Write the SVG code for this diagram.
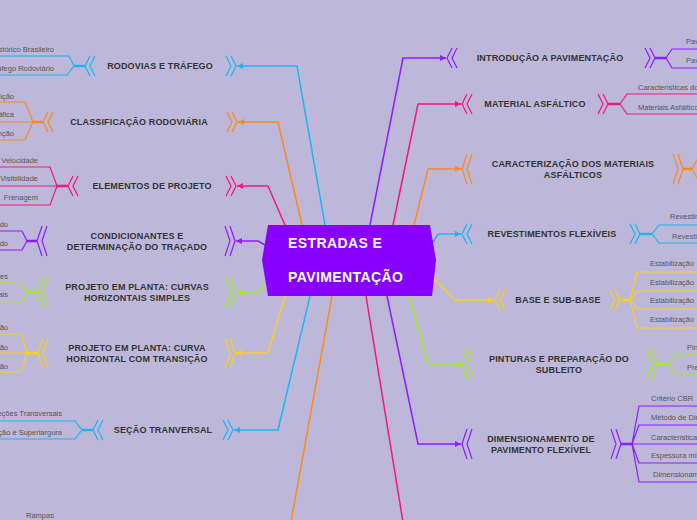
<svg xmlns="http://www.w3.org/2000/svg" width="697" height="520" viewBox="0 0 697 520">
<style>
.t{font-family:"Liberation Sans",Arial,sans-serif;font-weight:bold;font-size:9px;fill:#333;text-anchor:middle;letter-spacing:0.15px}
.s{font-family:"Liberation Sans",Arial,sans-serif;font-size:7.5px;fill:#555}
.e{text-anchor:end}
.c{fill:none;stroke-width:1.5}
.b{fill:none;stroke-width:1.2}
.k{fill:none;stroke-width:2.5}
.cy{stroke:#1cb4f2}.or{stroke:#fb8a1c}.pk{stroke:#f5177a}.pu{stroke:#8f1cff}.li{stroke:#a4ec1c}.ye{stroke:#f8cf1c}
.main{font-family:"Liberation Sans",Arial,sans-serif;font-weight:bold;font-size:14px;fill:#fff;letter-spacing:0.4px}
</style>
<defs>
<marker id="acy" markerUnits="userSpaceOnUse" markerWidth="7" markerHeight="6" refX="6" refY="3" orient="auto"><path d="M0,0 L6,3 L0,6 z" fill="#1cb4f2"/></marker>
<marker id="aor" markerUnits="userSpaceOnUse" markerWidth="7" markerHeight="6" refX="6" refY="3" orient="auto"><path d="M0,0 L6,3 L0,6 z" fill="#fb8a1c"/></marker>
<marker id="apk" markerUnits="userSpaceOnUse" markerWidth="7" markerHeight="6" refX="6" refY="3" orient="auto"><path d="M0,0 L6,3 L0,6 z" fill="#f5177a"/></marker>
<marker id="apu" markerUnits="userSpaceOnUse" markerWidth="7" markerHeight="6" refX="6" refY="3" orient="auto"><path d="M0,0 L6,3 L0,6 z" fill="#8f1cff"/></marker>
<marker id="ali" markerUnits="userSpaceOnUse" markerWidth="7" markerHeight="6" refX="6" refY="3" orient="auto"><path d="M0,0 L6,3 L0,6 z" fill="#a4ec1c"/></marker>
<marker id="aye" markerUnits="userSpaceOnUse" markerWidth="7" markerHeight="6" refX="6" refY="3" orient="auto"><path d="M0,0 L6,3 L0,6 z" fill="#f8cf1c"/></marker>
</defs>
<rect width="697" height="520" fill="#bdb8da"/>

<g id="connectors">
<path class="c cy" d="M325,225 L297,66 L237,66" marker-end="url(#acy)"/>
<path class="c or" d="M302,225 L278,122 L238,122" marker-end="url(#aor)"/>
<path class="c pk" d="M285,225 L268,186 L237,186" marker-end="url(#apk)"/>
<path class="c pu" d="M265,245 L258,241 L236,241" marker-end="url(#apu)"/>
<path class="c li" d="M265,285 L258,292 L237,292" marker-end="url(#ali)"/>
<path class="c ye" d="M285,296 L268,353 L236,353" marker-end="url(#aye)"/>
<path class="c cy" d="M310,296 L278,430 L234,430" marker-end="url(#acy)"/>
<path class="c or" d="M332,296 L291,522"/>
<path class="c pk" d="M366,296 L403,522"/>
<path class="c pu" d="M370,225 L403,58 L446,58" marker-end="url(#apu)"/>
<path class="c pk" d="M393,225 L418,104 L461,104" marker-end="url(#apk)"/>
<path class="c or" d="M414,225 L428,169 L461,169" marker-end="url(#aor)"/>
<path class="c cy" d="M433,242 L438,234 L461,234" marker-end="url(#acy)"/>
<path class="c ye" d="M433,278 L455,300 L494,300" marker-end="url(#aye)"/>
<path class="c li" d="M409,296 L428,364 L461,364" marker-end="url(#ali)"/>
<path class="c pu" d="M387,296 L418,444 L461,444" marker-end="url(#apu)"/>
</g>

<g id="center">
<polygon points="268,225 430,225 436,260 432,296 268,296 262,260" fill="#8800ff"/>
<text class="main" x="288" y="248">ESTRADAS E</text>
<text class="main" x="288" y="282">PAVIMENTAÇÃO</text>
</g>

<g id="rodovias">
<path class="b cy" d="M226,56 L231,66 L226,76 M231,56 L236,66 L231,76 M90,56 L85,66 L90,76 M95,56 L90,66 L95,76"/>
<path class="k cy" d="M85,66 L74,66"/>
<path class="b cy" d="M74,66 L69,56 L-2,56 M74,66 L67,75 L-2,75"/>
<text class="t" x="160" y="69">RODOVIAS E TRÁFEGO</text>
<text class="s e" x="54" y="52">Histórico Brasileiro</text>
<text class="s e" x="54" y="71">Tráfego Rodoviário</text>
</g>

<g id="classificacao">
<path class="b or" d="M227,112 L232,122 L227,132 M232,112 L237,122 L232,132 M48,112 L43,122 L48,132 M53,112 L48,122 L53,132"/>
<path class="k or" d="M43,122 L33,122"/>
<path class="b or" d="M33,122 L25,102 L-2,102 M33,122 L-2,122 M33,122 L25,140 L-2,140"/>
<text class="t" x="139" y="125">CLASSIFICAÇÃO RODOVIÁRIA</text>
<text class="s e" x="14" y="98.5">Jurisdição</text>
<text class="s e" x="14" y="117">Geográfica</text>
<text class="s e" x="14" y="135.5">Função</text>
</g>

<g id="elementos">
<path class="b pk" d="M226,176 L231,186 L226,196 M231,176 L236,186 L231,196 M73,176 L68,186 L73,196 M78,176 L73,186 L78,196"/>
<path class="k pk" d="M68,186 L57,186"/>
<path class="b pk" d="M57,186 L50,167 L-2,167 M57,186 L-2,186 M57,186 L50,205 L-2,205"/>
<text class="t" x="152" y="189">ELEMENTOS DE PROJETO</text>
<text class="s e" x="38" y="162.5">Velocidade</text>
<text class="s e" x="38" y="181">Visibilidade</text>
<text class="s e" x="38" y="199.5">Frenagem</text>
</g>

<g id="condicionantes">
<path class="b pu" d="M225,226 L230,241 L225,256 M230,226 L235,241 L230,256 M42,226 L37,241 L42,256 M47,226 L42,241 L47,256"/>
<path class="k pu" d="M37,241 L27,241"/>
<path class="b pu" d="M27,241 L22,231 L-2,231 M27,241 L22,250 L-2,250"/>
<text class="t" x="137" y="239">CONDICIONANTES E</text>
<text class="t" x="137" y="250">DETERMINAÇÃO DO TRAÇADO</text>
<text class="s e" x="8" y="226.5">Traçado</text>
<text class="s e" x="8" y="245.5">Traçado</text>
</g>

<g id="curvas-simples">
<path class="b li" d="M226,277 L231,292 L226,307 M231,277 L236,292 L231,307 M43,277 L38,292 L43,307 M48,277 L43,292 L48,307"/>
<path class="k li" d="M38,292 L27,292"/>
<path class="b li" d="M27,292 L21,283 L-2,283 M27,292 L21,303 L-2,303"/>
<text class="t" x="137" y="290">PROJETO EM PLANTA: CURVAS</text>
<text class="t" x="137" y="301">HORIZONTAIS SIMPLES</text>
<text class="s e" x="8" y="278.5">Simples</text>
<text class="s e" x="8" y="296.5">Horizontais</text>
</g>

<g id="curva-transicao">
<path class="b ye" d="M225,338 L230,353 L225,368 M230,338 L235,353 L230,368 M43,338 L38,353 L43,368 M48,338 L43,353 L48,368"/>
<path class="k ye" d="M38,353 L27,353"/>
<path class="b ye" d="M27,353 L21,334 L-2,334 M27,353 L-2,353 M27,353 L21,372 L-2,372"/>
<text class="t" x="137" y="351">PROJETO EM PLANTA: CURVA</text>
<text class="t" x="137" y="362">HORIZONTAL COM TRANSIÇÃO</text>
<text class="s e" x="8" y="329.5">Transição</text>
<text class="s e" x="8" y="349.5">Locação</text>
<text class="s e" x="8" y="368.5">Superelevação</text>
</g>

<g id="secao">
<path class="b cy" d="M223,420 L228,430 L223,440 M228,420 L233,430 L228,440 M98,420 L93,430 L98,440 M103,420 L98,430 L103,440"/>
<path class="k cy" d="M93,430 L82,430"/>
<path class="b cy" d="M82,430 L75,421 L-2,421 M82,430 L75,439 L-2,439"/>
<text class="t" x="163" y="433">SEÇÃO TRANVERSAL</text>
<text class="s e" x="62" y="415.5">Seções Transversais</text>
<text class="s e" x="62" y="434.5">Superelevação e Superlargura</text>
</g>

<g id="rampas">
<text class="s" x="40" y="518" text-anchor="middle">Rampas</text>
</g>

<g id="introducao">
<path class="b pu" d="M452,48 L447,58 L452,68 M457,48 L452,58 L457,68 M645,48 L650,58 L645,68 M650,48 L655,58 L650,68"/>
<path class="k pu" d="M655,58 L666,58"/>
<path class="b pu" d="M666,58 L672,49 L700,49 M666,58 L672,68 L700,68"/>
<text class="t" x="550" y="61">INTRODUÇÃO A PAVIMENTAÇÃO</text>
<text class="s" x="686" y="44">Pavimentação</text>
<text class="s" x="686" y="63">Pavimento</text>
</g>

<g id="material">
<path class="b pk" d="M467,94 L462,104 L467,114 M472,94 L467,104 L472,114 M598,94 L603,104 L598,114 M603,94 L608,104 L603,114"/>
<path class="k pk" d="M608,104 L620,104"/>
<path class="b pk" d="M620,104 L627,94 L700,94 M620,104 L627,114 L700,114"/>
<text class="t" x="535" y="107">MATERIAL ASFÁLTICO</text>
<text class="s" x="638" y="89.5">Características dos Asfaltos</text>
<text class="s" x="638" y="109.5">Materiais Asfálticos</text>
</g>

<g id="caracterizacao">
<path class="b or" d="M467,154 L462,169 L467,184 M472,154 L467,169 L472,184 M673,154 L678,169 L673,184 M678,154 L683,169 L678,184"/>
<path class="k or" d="M683,169 L692,169"/>
<path class="b or" d="M692,169 L697,160 L700,160 M692,169 L697,178 L700,178"/>
<text class="t" x="573" y="167">CARACTERIZAÇÃO DOS MATERIAIS</text>
<text class="t" x="573" y="178">ASFÁLTICOS</text>
</g>

<g id="revestimentos">
<path class="b cy" d="M467,224 L462,234 L467,244 M472,224 L467,234 L472,244 M630,224 L635,234 L630,244 M635,224 L640,234 L635,244"/>
<path class="k cy" d="M640,234 L652,234"/>
<path class="b cy" d="M652,234 L659,225 L700,225 M652,234 L659,243 L700,243"/>
<text class="t" x="552" y="237">REVESTIMENTOS FLEXÍVEIS</text>
<text class="s" x="670" y="218.5">Revestimentos</text>
<text class="s" x="672" y="238.5">Revestimentos</text>
</g>

<g id="base">
<path class="b ye" d="M500,290 L495,300 L500,310 M505,290 L500,300 L505,310 M610,290 L615,300 L610,310 M615,290 L620,300 L615,310"/>
<path class="k ye" d="M620,300 L630,300"/>
<path class="b ye" d="M630,300 L637,272 L700,272 M630,300 L637,291 L700,291 M630,300 L637,309 L700,309 M630,300 L637,328 L700,328"/>
<text class="t" x="558" y="303">BASE E SUB-BASE</text>
<text class="s" x="650" y="265.5">Estabilização</text>
<text class="s" x="650" y="284.5">Estabilização</text>
<text class="s" x="650" y="302.5">Estabilização</text>
<text class="s" x="650" y="321.5">Estabilização</text>
</g>

<g id="pinturas">
<path class="b li" d="M467,349 L462,364 L467,379 M472,349 L467,364 L472,379 M647,349 L652,364 L647,379 M652,349 L657,364 L652,379"/>
<path class="k li" d="M657,364 L668,364"/>
<path class="b li" d="M668,364 L675,355 L700,355 M668,364 L675,374 L700,374"/>
<text class="t" x="559" y="362">PINTURAS E PREPARAÇÃO DO</text>
<text class="t" x="559" y="373">SUBLEITO</text>
<text class="s" x="687" y="349.5">Pinturas</text>
<text class="s" x="687" y="369.5">Preparação</text>
</g>

<g id="dimensionamento">
<path class="b pu" d="M467,429 L462,444 L467,459 M472,429 L467,444 L472,459 M611,429 L616,444 L611,459 M616,429 L621,444 L616,459"/>
<path class="k pu" d="M621,444 L632,444"/>
<path class="b pu" d="M632,444 L639,406 L700,406 M632,444 L639,425 L700,425 M632,444 L700,444 M632,444 L639,463 L700,463 M632,444 L639,482 L700,482"/>
<text class="t" x="541" y="442">DIMENSIONAMENTO DE</text>
<text class="t" x="541" y="453">PAVIMENTO FLEXÍVEL</text>
<text class="s" x="651" y="400.5">Critério CBR</text>
<text class="s" x="651" y="419.5">Método de Dimensionamento</text>
<text class="s" x="651" y="439.5">Características</text>
<text class="s" x="651" y="457.5">Espessura mínima</text>
<text class="s" x="653" y="476.5">Dimensionamento</text>
</g>
</svg>
